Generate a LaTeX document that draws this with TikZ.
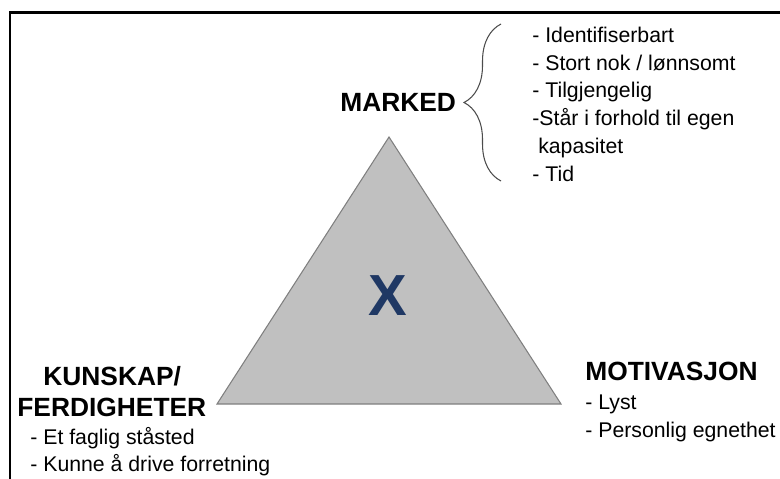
\documentclass[tikz,border=0pt]{standalone}
\usepackage{fontspec}
\setmainfont{Liberation Sans}
\usepackage{xcolor}
\usetikzlibrary{positioning, decorations.pathreplacing}
\definecolor{navy}{HTML}{1F3864}
\definecolor{trifill}{HTML}{C0C0C0}
\definecolor{triedge}{HTML}{7F7F7F}
\tikzset{
  heading/.style={anchor=base west, inner sep=0pt, font=\fontsize{15}{18}\selectfont\bfseries},
  item/.style={anchor=base west, inner sep=0pt, font=\fontsize{12.1}{15}\selectfont},
  frame/.style={line width=1.4pt},
  brace/.style={decorate, decoration={brace, amplitude=0.74cm}, draw=black!70, line width=0.6pt},
}

\begin{document}
\begin{tikzpicture}[x=0.02cm, y=-0.02cm]
  \useasboundingbox (0,0) rectangle (780,479);
  \draw[frame] (10,479) -- (10,12.7) -- (780,12.7);
  % the triangle
  \coordinate (top) at (389,137);
  \coordinate (bl) at (217,404);
  \coordinate (br) at (561,404);
  \filldraw[fill=trifill, draw=triedge, line width=0.6pt] (top) -- (bl) -- (br) -- cycle;
  \node[text=navy, font=\fontsize{33}{36}\selectfont\bfseries] (x) at (388,296) {X};
  % corners
  \node[heading] (marked) at (340,112) {MARKED};
  \node[heading] (kunskap) at (43,385) {KUNSKAP/};
  \node[heading] (ferdig) at (17,416) {FERDIGHETER};
  \node[heading] (motiv) at (585,380) {MOTIVASJON};
  % market list with its brace
  \foreach \t [count=\i] in {- Identifiserbart, - Stort nok / lønnsomt, - Tilgjengelig,
      -Står i forhold til egen, ~kapasitet, - Tid}
    \node[item] (m\i) at (532, {42.3+27.8*(\i-1)}) {\t};
  \coordinate (bb) at (501,181);
  \coordinate (bt) at (501,24);
  \draw[brace] (bb) -- (bt);
  % the other two lists
  \node[item] (k1) at (30,444) {- Et faglig ståsted};
  \node[item] (k2) at (30,471) {- Kunne å drive forretning};
  \node[item] (v1) at (585,409) {- Lyst};
  \node[item] (v2) at (585,437) {- Personlig egnethet};
\end{tikzpicture}
\end{document}
